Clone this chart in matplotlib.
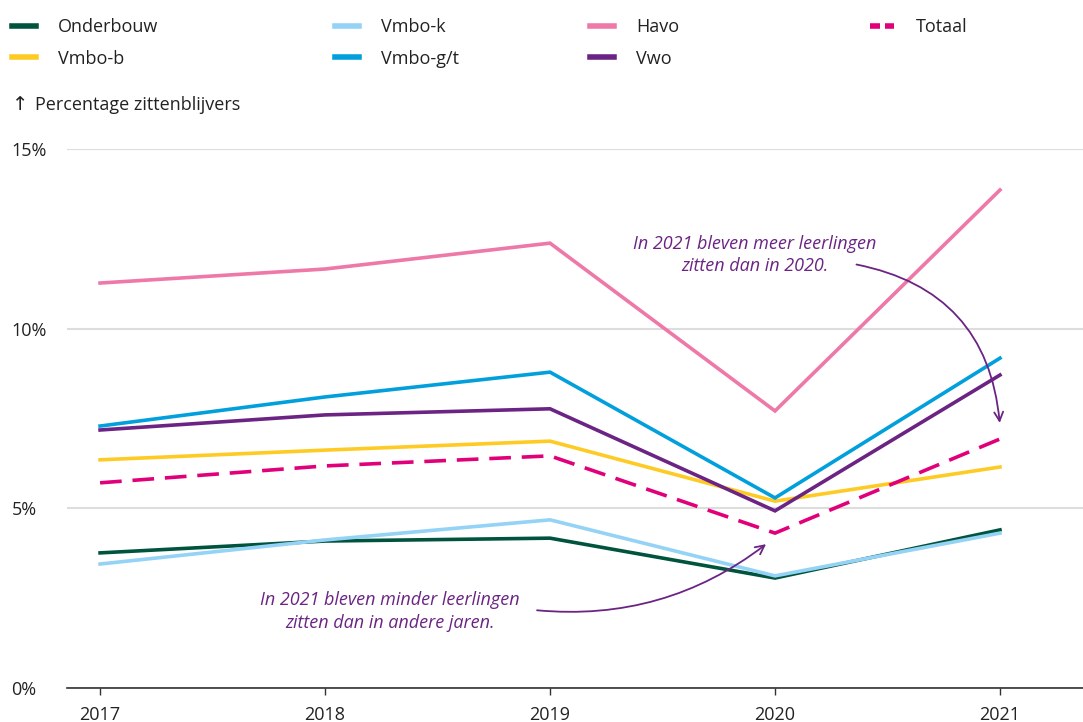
import matplotlib.pyplot as plt
from matplotlib.lines import Line2D

jaren = [2017, 2018, 2019, 2020, 2021]
onderbouw = [3.76, 4.09, 4.17, 3.06, 4.40]
vmbo_b = [6.35, 6.62, 6.87, 5.20, 6.15]
vmbo_k = [3.45, 4.12, 4.68, 3.12, 4.31]
vmbo_gt = [7.29, 8.10, 8.79, 5.29, 9.18]
havo = [11.27, 11.66, 12.38, 7.71, 13.86]
vwo = [7.18, 7.60, 7.77, 4.93, 8.71]
totaal = [5.71, 6.18, 6.46, 4.31, 6.93]

yticks = [0, 5, 10, 15]
ytick_labels = ["0%", "5%", "10%", "15%"]

FONT = "Open Sans"
plt.rcParams["font.family"] = [FONT, "DejaVu Sans"]
PURPLE = "#6b2483"

fig = plt.figure(figsize=(10.83, 7.22), dpi=100)
ax = fig.add_axes([67 / 1083, 34 / 722, 1 - 67 / 1083, (688 - 149) / 722])

series = [
    ("Onderbouw", onderbouw, "#00533d", "-"),
    ("Vmbo-b", vmbo_b, "#fecb24", "-"),
    ("Vmbo-k", vmbo_k, "#94d3f5", "-"),
    ("Vmbo-g/t", vmbo_gt, "#01a0dc", "-"),
    ("Havo", havo, "#ee78a8", "-"),
    ("Vwo", vwo, PURPLE, "-"),
    ("Totaal", totaal, "#e2007a", "--"),
]
handles = {}
for name, vals, col, ls in series:
    if ls == "--":
        ax.plot(jaren, vals, color=col, lw=2.6, ls=(0, (6, 3)), zorder=3)
        handles[name] = Line2D([], [], color=col, lw=4, ls=(0, (1.8, 0.9)))
    else:
        ax.plot(jaren, vals, color=col, lw=2.6, zorder=3, solid_joinstyle="miter")
        handles[name] = Line2D([], [], color=col, lw=4)

ax.set_xlim(2016.853, 2021.369)
ax.set_ylim(0, 15)
ax.set_xticks(jaren)
ax.set_xticklabels([str(j) for j in jaren])
ax.set_yticks(yticks)
ax.set_yticklabels(ytick_labels, ha="left")
ax.grid(axis="y", color="#dddddd", lw=1.5, zorder=0)
for s in ["top", "right", "left"]:
    ax.spines[s].set_visible(False)
ax.spines["bottom"].set_color("#333333")
ax.spines["bottom"].set_linewidth(1.2)
ax.tick_params(axis="y", length=0, pad=40, labelsize=13, labelcolor="#222222")
ax.tick_params(axis="x", length=5, width=1, color="#333333", pad=8,
               labelsize=13, labelcolor="#222222")

# annotaties
ax.text(2019.91, 12.05, "In 2021 bleven meer leerlingen\nzitten dan in 2020.",
        ha="center", va="center", fontsize=13, style="italic", color=PURPLE,
        linespacing=1.35)
ax.annotate("", xy=(2021.0, 7.3), xytext=(2020.35, 11.8),
            arrowprops=dict(arrowstyle="->", color=PURPLE, lw=1.3,
                            mutation_scale=16,
                            connectionstyle="arc3,rad=-0.38"))
ax.text(2018.29, 2.14, "In 2021 bleven minder leerlingen\nzitten dan in andere jaren.",
        ha="center", va="center", fontsize=13, style="italic", color=PURPLE,
        linespacing=1.35)
ax.annotate("", xy=(2019.97, 4.05), xytext=(2018.93, 2.17),
            arrowprops=dict(arrowstyle="->", color=PURPLE, lw=1.3,
                            mutation_scale=16,
                            connectionstyle="arc3,rad=0.2"))

# legenda in vier kolommen
kolommen = [(12, ["Onderbouw", "Vmbo-b"]), (335, ["Vmbo-k", "Vmbo-g/t"]),
            (590, ["Havo", "Vwo"]), (870, ["Totaal"])]
for x, names in kolommen:
    fig.legend([handles[n] for n in names], names, loc="upper left",
               bbox_to_anchor=(x / 1083, 1 - 18 / 722), frameon=False,
               fontsize=13, borderpad=0, borderaxespad=0, handlelength=1.35,
               handletextpad=1.2, labelspacing=0.75, labelcolor="#222222")

fig.text(12 / 1083, 1 - 105 / 722, "\u2191", fontsize=14, va="center",
         ha="left", color="#222222", family="DejaVu Sans")
fig.text(35 / 1083, 1 - 105 / 722, "Percentage zittenblijvers", fontsize=13,
         va="center", ha="left", color="#222222")

fig.savefig("out.png", dpi=100)
